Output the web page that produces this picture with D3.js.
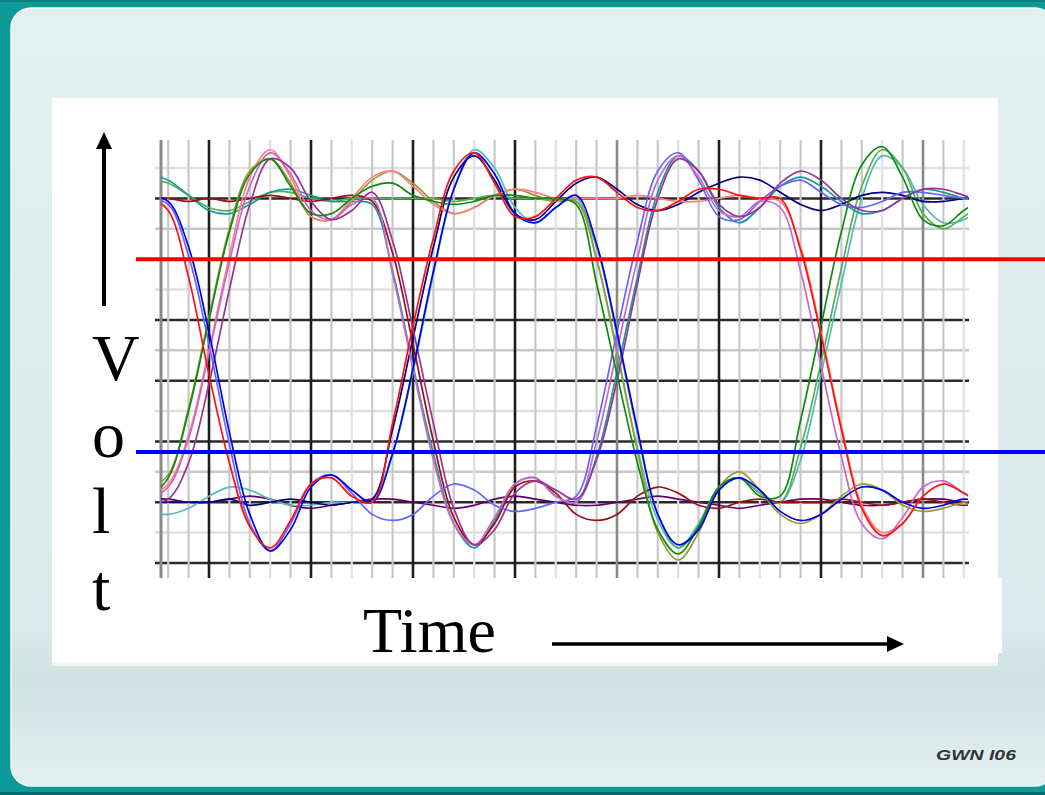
<!DOCTYPE html>
<html>
<head>
<meta charset="utf-8">
<script src="https://cdn.jsdelivr.net/npm/d3@7"></script>
<style>
  html, body { margin: 0; padding: 0; background: #0b9a97; }
  svg { display: block; }
</style>
</head>
<body>
<svg id="chart"></svg>
<script>
// sample times (one grid division per step), shared by every trace
const timeSteps = [2, 3, 4, 5, 6, 7, 8, 9, 10, 11, 12, 13, 14, 15, 16, 17, 18, 19, 20, 21, 22,
  23, 24, 25, 26, 27, 28, 29, 30, 31, 32, 33, 34, 35, 36, 37, 38, 39, 40, 41, 42, 43];

// voltage, in grid divisions above the bottom black line
const traceRed = [12.1, 11.6, 9.4,
  6.2, 3.3, 1.2, 0.5, 1.4, 2.6, 2.8, 2.2, 2.0, 4.6,
  7.8, 10.7, 12.9, 13.5, 12.5, 11.4, 11.4, 12.0, 12.6, 12.7,
  12.2, 11.7, 11.6, 11.9, 12.3, 12.3, 12.1, 12.0, 12.0, 10.3,
  7.5, 4.4, 1.8, 0.9, 1.3, 2.2, 2.6, 2.3, 1.9];
const traceBlue = [12.1, 11.9, 10.4,
  7.6, 4.3, 1.6, 0.4, 1.1, 2.5, 2.9, 2.4, 2.0, 3.6,
  6.4, 9.6, 12.3, 13.5, 12.8, 11.5, 11.2, 11.7, 12.1, 10.5,
  7.6, 4.4, 1.6, 0.6, 1.1, 2.4, 2.8, 2.4, 1.7, 1.4,
  1.6, 2.1, 2.5, 2.4, 2.0, 1.8, 1.9, 2.1, 2.0];
const traceGreen = [2.1, 2.8, 5.0,
  8.0, 10.9, 12.8, 13.3, 12.4, 11.5, 11.5, 12.0, 12.4, 12.5,
  12.1, 11.9, 11.8, 11.9, 12.1, 12.1, 12.0, 12.0, 11.8, 9.2,
  6.2, 3.3, 1.1, 0.3, 1.2, 2.5, 2.8, 2.2, 2.2, 4.7,
  7.8, 10.9, 13.1, 13.7, 12.7, 11.3, 11.1, 11.6, 12.0];
const traceTeal = [12.8, 12.6, 12.1,
  11.6, 11.5, 11.8, 12.2, 12.3, 12.1, 11.9, 11.9, 11.8, 9.6,
  6.5, 3.6, 1.3, 0.5, 1.4, 2.6, 2.8, 2.2, 2.0, 3.5,
  6.3, 9.4, 12.2, 13.4, 12.9, 11.7, 11.2, 11.7, 12.4, 12.7,
  12.4, 11.9, 11.5, 11.6, 12.0, 12.3, 12.2, 12.0, 11.9];
const tracePurple = [2.0, 2.1, 3.3,
  5.9, 9.0, 11.8, 13.3, 13.0, 11.9, 11.3, 11.6, 12.2, 10.6,
  7.7, 4.6, 1.8, 0.6, 1.1, 2.3, 2.7, 2.4, 2.1, 3.4,
  6.0, 9.2, 12.0, 13.3, 12.9, 11.8, 11.4, 11.7, 12.5, 12.9,
  12.6, 12.0, 11.6, 11.6, 12.0, 12.3, 12.3, 12.1, 11.9];
const traceDarkRed = [12.0, 12.0, 11.9,
  12.0, 11.9, 12.0, 12.1, 12.0, 11.9, 12.0, 12.1, 11.9, 10.2,
  7.2, 4.0, 1.5, 0.6, 1.3, 2.5, 2.7, 2.3, 1.6, 1.4,
  1.6, 2.2, 2.5, 2.3, 1.9, 1.8, 2.0, 2.1, 2.0, 2.0,
  2.0, 2.1, 2.0, 1.9, 2.0, 2.1, 2.0, 1.9, 2.0];
const traceOlive = [2.4, 2.9, 5.1,
  8.1, 11.0, 12.9, 13.3, 12.5, 11.4, 11.3, 11.9, 12.6, 12.9,
  12.5, 11.9, 11.5, 11.7, 12.1, 12.3, 12.1, 11.9, 11.9, 10.0,
  7.0, 3.7, 1.0, 0.1, 1.0, 2.5, 3.0, 2.4, 1.6, 1.3,
  1.6, 2.2, 2.6, 2.4, 1.9, 1.7, 1.8, 2.0, 2.1];
const traceNavy = [2.0, 2.0, 2.0,
  2.0, 2.1, 1.9, 2.0, 2.1, 2.0, 1.9, 2.0, 2.1, 4.4,
  7.4, 10.4, 12.7, 13.4, 12.6, 11.5, 11.3, 11.9, 12.5, 12.7,
  12.3, 11.8, 11.6, 11.8, 12.2, 12.5, 12.7, 12.6, 12.2, 11.8,
  11.6, 11.8, 12.1, 12.2, 12.1, 11.9, 11.9, 12.0, 12.1];
const tracePink = [2.2, 2.6, 4.2,
  7.0, 10.1, 12.7, 13.6, 12.7, 11.4, 11.3, 12.0, 12.7, 12.9,
  12.4, 11.8, 11.5, 11.7, 12.1, 12.3, 12.2, 12.0, 12.0, 12.0,
  12.0, 12.1, 12.0, 11.9, 11.9, 12.0, 12.1, 12.0, 11.9, 10.4,
  7.6, 4.5, 1.9, 1.0, 1.3, 2.2, 2.6, 2.3, 1.8];
const traceLightBlue = [12.0, 11.8, 10.1,
  7.2, 3.9, 1.3, 0.4, 1.3, 2.6, 2.9, 2.3, 1.6, 1.4,
  1.6, 2.2, 2.6, 2.4, 1.9, 1.7, 1.8, 2.0, 2.2, 4.5,
  7.6, 10.6, 12.9, 13.5, 12.6, 11.4, 11.3, 11.9, 12.4, 12.6,
  12.2, 11.8, 11.7, 11.9, 12.2, 12.2, 12.1, 12.0, 12.0];
const traceLightGreen = [12.6, 12.5, 12.1,
  11.7, 11.6, 11.9, 12.2, 12.2, 12.0, 11.9, 12.0, 12.0, 12.0,
  12.0, 12.0, 11.9, 12.0, 12.1, 12.0, 12.0, 11.9, 11.9, 10.4,
  7.5, 4.3, 1.6, 0.5, 1.2, 2.5, 2.8, 2.3, 2.0, 3.8,
  6.6, 9.7, 12.4, 13.6, 13.0, 11.5, 11.0, 11.4, 11.9];
const traceLightTeal = [1.7, 1.6, 1.8,
  2.2, 2.5, 2.4, 2.1, 1.9, 1.9, 2.0, 2.0, 2.1, 3.6,
  6.3, 9.5, 12.3, 13.6, 13.0, 11.7, 11.2, 11.7, 12.0, 10.0,
  6.9, 3.8, 1.4, 0.5, 1.3, 2.5, 2.8, 2.3, 2.0, 3.4,
  6.2, 9.2, 12.0, 13.4, 13.0, 11.8, 11.2, 11.3, 11.8];
const traceDarkPurple = [2.1, 2.1, 2.0,
  2.0, 2.1, 2.2, 2.1, 1.9, 1.8, 1.9, 2.0, 2.1, 2.1,
  2.0, 1.9, 1.8, 1.9, 2.1, 2.2, 2.1, 2.0, 1.9, 1.9,
  2.0, 2.1, 2.2, 2.1, 2.0, 1.9, 1.8, 1.9, 2.0, 2.1,
  2.1, 2.0, 1.9, 1.9, 2.0, 2.1, 2.1, 2.0, 2.0];
const traceMagenta = [2.1, 2.5, 4.1,
  6.9, 9.9, 12.4, 13.5, 12.8, 11.6, 11.3, 11.8, 12.0, 9.5,
  6.4, 3.4, 1.3, 0.6, 1.5, 2.6, 2.8, 2.2, 2.0, 4.0,
  7.0, 10.0, 12.6, 13.4, 12.7, 11.6, 11.4, 11.9, 11.7, 9.6,
  6.5, 3.5, 1.3, 0.8, 1.5, 2.5, 2.7, 2.3, 1.9];

// the two threshold levels (red upper, blue lower)
const thresholdLevels = [10, 3.65];
const thresholdColors = ['#ff0000', '#0000ff'];

const traces = [
  {values: traceDarkPurple, color: '#660066'},
  {values: traceLightTeal, color: '#55bbbb'},
  {values: traceLightGreen, color: '#55b055'},
  {values: traceTeal, color: '#1a9999'},
  {values: traceDarkRed, color: '#991111'},
  {values: traceNavy, color: '#000080'},
  {values: traceOlive, color: '#999933'},
  {values: tracePink, color: '#ff8080'},
  {values: traceLightBlue, color: '#6666ff'},
  {values: traceMagenta, color: '#cc66cc'},
  {values: tracePurple, color: '#993399'},
  {values: traceGreen, color: '#108a10'},
  {values: traceBlue, color: '#0000ee'},
  {values: traceRed, color: '#ff1010'},
];

const W = 1045, H = 795;
const svg = d3.select('#chart').attr('width', W).attr('height', H);

// slide background
const defs = svg.append('defs');
const bg = defs.append('linearGradient').attr('id', 'bg')
  .attr('x1', 0).attr('y1', 0).attr('x2', 0).attr('y2', 1);
bg.append('stop').attr('offset', '0').attr('stop-color', '#e3f0f0');
bg.append('stop').attr('offset', '0.8').attr('stop-color', '#dae9e9');
bg.append('stop').attr('offset', '0.86').attr('stop-color', '#cfe1e1');
bg.append('stop').attr('offset', '1').attr('stop-color', '#e3f0f0');

svg.append('rect').attr('width', W).attr('height', H).attr('fill', '#0b9a97');
svg.append('rect').attr('x', 0).attr('y', 0).attr('width', W).attr('height', 2).attr('fill', '#0a7f7d');
svg.append('rect').attr('x', 0).attr('y', H - 3).attr('width', W).attr('height', 3).attr('fill', '#066a68');
svg.append('rect')
  .attr('x', 11).attr('y', 8).attr('width', 1044).attr('height', 778)
  .attr('rx', 20)
  .attr('fill', 'url(#bg)')
  .attr('stroke', '#f4fafa').attr('stroke-width', 1.5);

// white panel
svg.append('rect').attr('x', 52).attr('y', 98).attr('width', 946).attr('height', 565).attr('fill', '#ffffff');
svg.append('rect').attr('x', 998).attr('y', 578).attr('width', 4).attr('height', 75).attr('fill', '#ffffff');
svg.append('rect').attr('x', 52).attr('y', 663).attr('width', 946).attr('height', 3).attr('fill', '#eef5f5');

// scales: one grid division = 20.4 px across, 30.4 px up
const x = d3.scaleLinear().domain([0, 40]).range([107, 923]);
const y = d3.scaleLinear().domain([0, 13]).range([563, 168]);

const plotTop = 140, plotBottom = 578, plotLeft = 161, plotRight = 968;

// grid
const grid = svg.append('g');
const hLevels = d3.range(0, 14);
const darkLevels = [0, 2, 4, 6, 8, 12];
grid.selectAll('line.h').data(hLevels).join('line')
  .attr('x1', 155).attr('x2', plotRight + 1)
  .attr('y1', d => y(d)).attr('y2', d => y(d))
  .attr('stroke', d => darkLevels.includes(d) ? '#2a2a2a' : (d % 4 === 1 ? '#e0e0e0' : '#c8c8c8'))
  .attr('stroke-width', 2.5);

const vTimes = d3.range(3, 43);
grid.selectAll('line.v').data(vTimes).join('line')
  .attr('x1', d => x(d)).attr('x2', d => x(d))
  .attr('y1', plotTop).attr('y2', plotBottom)
  .attr('stroke', d => {
    if (d === 25 || d === 40) return '#8a8a8a';
    if (d % 5 === 0) return '#1e1e1e';
    return (d % 5 === 2 || d % 5 === 3) && d % 2 === 0 ? '#e0e0e0' : '#c8c8c8';
  })
  .attr('stroke-width', d => d % 5 === 0 ? 2.6 : 2.2);
grid.append('line')
  .attr('x1', plotLeft).attr('x2', plotLeft)
  .attr('y1', plotTop).attr('y2', plotBottom)
  .attr('stroke', '#8a8a8a').attr('stroke-width', 3);

// traces
defs.append('clipPath').attr('id', 'plotClip')
  .append('rect').attr('x', plotLeft).attr('y', 100)
  .attr('width', plotRight - plotLeft).attr('height', 500);

const line = d3.line()
  .x((d, i) => x(timeSteps[i]))
  .y(d => y(d))
  .curve(d3.curveCatmullRom.alpha(0.5));

svg.append('g').attr('clip-path', 'url(#plotClip)')
  .selectAll('path').data(traces).join('path')
  .attr('d', d => line(d.values))
  .attr('fill', 'none')
  .attr('stroke', d => d.color)
  .attr('stroke-width', 1.7);

// threshold lines
svg.selectAll('line.thr').data(thresholdLevels).join('line')
  .attr('x1', 136).attr('x2', W)
  .attr('y1', d => y(d)).attr('y2', d => y(d))
  .attr('stroke', (d, i) => thresholdColors[i])
  .attr('stroke-width', 4);

// axis arrows and labels
svg.append('line').attr('x1', 104).attr('x2', 104).attr('y1', 306).attr('y2', 146)
  .attr('stroke', '#000').attr('stroke-width', 4);
svg.append('path').attr('d', 'M104,132 L96,149 L112,149 Z').attr('fill', '#000');

svg.append('line').attr('x1', 552).attr('x2', 890).attr('y1', 644).attr('y2', 644)
  .attr('stroke', '#000').attr('stroke-width', 3.5);
svg.append('path').attr('d', 'M904,644 L887,636 L887,652 Z').attr('fill', '#000');

const serif = '"Liberation Serif", "Times New Roman", serif';
const voltLetters = ['V', 'o', 'l', 't'];
const voltBaselines = [380, 457, 533, 610];
svg.selectAll('text.volt').data(voltLetters).join('text')
  .attr('x', 92).attr('y', (d, i) => voltBaselines[i])
  .attr('font-family', serif).attr('font-size', 66)
  .attr('fill', '#000')
  .text(d => d);

svg.append('text').attr('x', 363).attr('y', 652)
  .attr('font-family', serif).attr('font-size', 64)
  .attr('fill', '#000')
  .text('Time');

svg.append('text').attr('x', 936).attr('y', 760)
  .attr('font-family', '"Liberation Sans", Arial, sans-serif')
  .attr('font-size', 15).attr('font-style', 'italic').attr('font-weight', 'bold')
  .attr('textLength', 80).attr('lengthAdjust', 'spacingAndGlyphs')
  .attr('fill', '#333')
  .text('GWN I06');
</script>
</body>
</html>
